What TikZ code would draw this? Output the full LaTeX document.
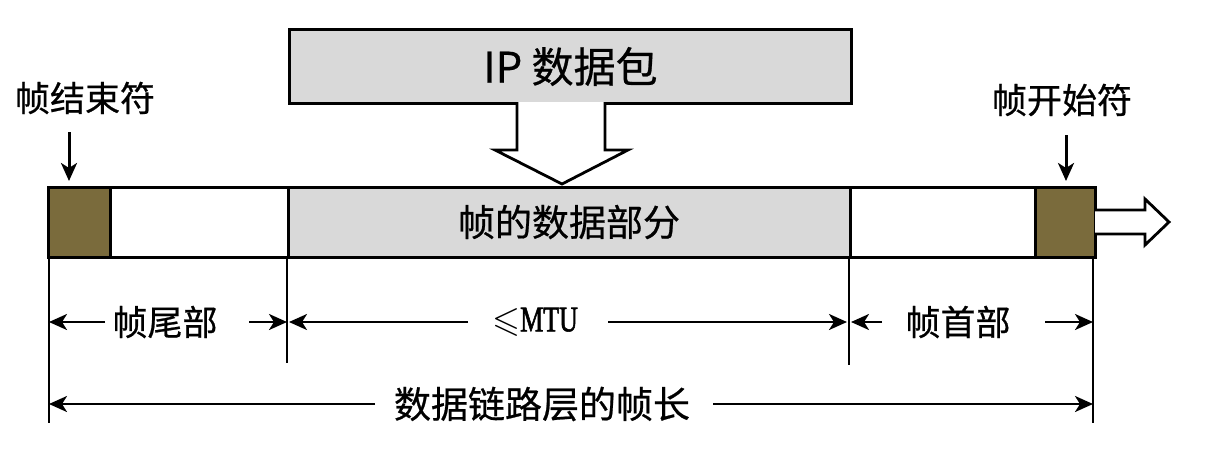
\documentclass[tikz,border=0pt]{standalone}
\usepackage{fontspec}
\usepackage{amssymb}
\newfontfamily\cjk[FakeBold=0.6]{Noto Sans CJK SC}
\newfontfamily\mtufont[FakeStretch=0.72,FakeBold=1.5]{Liberation Serif}
\usetikzlibrary{arrows.meta,calc}
\definecolor{brownfill}{HTML}{7A6B3C}
\definecolor{grayfill}{HTML}{D9D9D9}
\begin{document}
\begin{tikzpicture}[x=0.5pt,y=-0.5pt,
  seg/.style={draw, line width=1.5pt, inner sep=0pt, outer sep=0pt, anchor=north west, minimum height=35pt},
  lbl/.style={font=\cjk\fontsize{17.5pt}{20pt}\selectfont, inner sep=0pt},
  dim/.style={line width=1.3pt, -{Stealth[length=9pt,width=8pt,inset=2.5pt]}},
  ext/.style={line width=1.2pt},
  hollow/.style={draw, line width=1.4pt, fill=white, line join=miter}]
\useasboundingbox (0,0) rectangle (1209,461);

% IP datagram box
\node[draw, line width=1.5pt, fill=grayfill, minimum width=281pt, minimum height=37pt, inner sep=0pt, anchor=north west,
      font=\cjk\fontsize{21pt}{24pt}\selectfont] (ip) at (288,28) {IP 数据包};

% frame segments
\node[seg, fill=brownfill, minimum width=31pt] (endL) at (48,187) {};
\node[seg, fill=white, minimum width=89pt] (tailbox) at (endL.north east) {};
\node[seg, fill=grayfill, minimum width=281pt, font=\cjk\fontsize{18.5pt}{21pt}\selectfont] (data) at (tailbox.north east) {帧的数据部分};
\node[seg, fill=white, minimum width=92.5pt] (headbox) at (data.north east) {};
\node[seg, fill=brownfill, minimum width=30pt] (endR) at (headbox.north east) {};

% hollow down arrow from IP box to data part
\draw[hollow] (517,102) -- (517,150) -- (495,150) -- (562,184) -- (628,150) -- (605,150) -- (605,102);

% hollow right arrow
\draw[hollow] (1095,210) -- (1145,210) -- (1145,199) -- (1169,222) -- (1145,245) -- (1145,234) -- (1095,234);

% end/start markers
\node[lbl] (lend) at (85,98) {帧结束符};
\node[lbl] (lstart) at (1062,100) {帧开始符};
\coordinate (aL1) at (69,132);
\coordinate (aL2) at (69,181);
\coordinate (aR1) at (1066,135);
\coordinate (aR2) at (1066,181);
\draw[dim, line width=1.5pt] (aL1) -- (aL2);
\draw[dim, line width=1.5pt] (aR1) -- (aR2);

% extension lines
\coordinate (v1t) at (49,257);  \coordinate (v1b) at (49,423);
\coordinate (v2t) at (287,257); \coordinate (v2b) at (287,363);
\coordinate (v3t) at (849,257); \coordinate (v3b) at (849,365);
\coordinate (v4t) at (1093,257); \coordinate (v4b) at (1093,423);
\draw[ext] (v1t) -- (v1b);
\draw[ext] (v2t) -- (v2b);
\draw[ext] (v3t) -- (v3b);
\draw[ext] (v4t) -- (v4b);

% row 1 labels
\node[lbl] (tail) at (165,322) {帧尾部};
\node[inner sep=0pt] (mtu) at (535,322) {\fontsize{18pt}{20pt}\selectfont$\leqslant$\mtufont MTU};
\node[lbl] (head) at (958,322) {帧首部};
% row 2 label
\node[lbl, font=\cjk\fontsize{18.5pt}{22pt}\selectfont] (total) at (542,404) {数据链路层的帧长};

% row 1 dimension arrows
\coordinate (t1) at (105,322); \coordinate (t2) at (249,322);
\coordinate (m1) at (468,322); \coordinate (m2) at (608,322);
\coordinate (h1) at (882,322); \coordinate (h2) at (1045,322);
\draw[dim] (t1) -- (v1t |- t1);
\draw[dim] (t2) -- (v2t |- t2);
\draw[dim] (m1) -- ([xshift=1pt]v2t |- m1);
\draw[dim] (m2) -- ([xshift=-1pt]v3t |- m2);
\draw[dim] (h1) -- ([xshift=1pt]v3t |- h1);
\draw[dim] (h2) -- (v4t |- h2);

% row 2 dimension arrows
\coordinate (d1) at (375,404); \coordinate (d2) at (713,404);
\draw[dim] (d1) -- (v1t |- d1);
\draw[dim] (d2) -- (v4t |- d2);
\end{tikzpicture}
\end{document}
